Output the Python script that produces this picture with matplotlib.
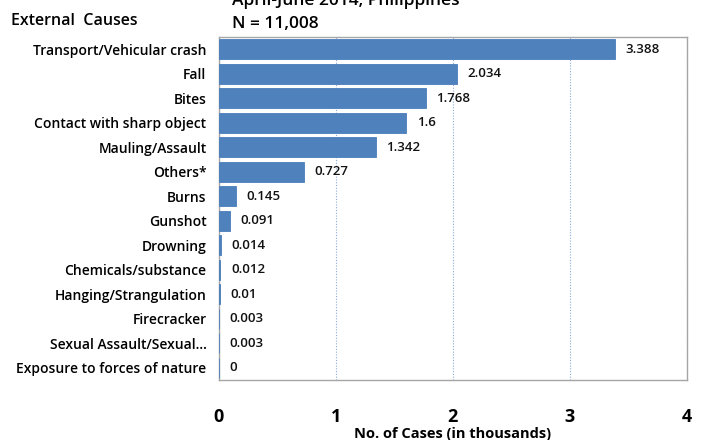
import matplotlib
matplotlib.use('Agg')
import matplotlib.pyplot as plt

# Data (values in thousands of cases)
causes = [
    'Transport/Vehicular crash', 'Fall', 'Bites', 'Contact with sharp object',
    'Mauling/Assault', 'Others*', 'Burns', 'Gunshot', 'Drowning',
    'Chemicals/substance', 'Hanging/Strangulation', 'Firecracker',
    'Sexual Assault/Sexual...', 'Exposure to forces of nature',
]
cases = [3.388, 2.034, 1.768, 1.6, 1.342, 0.727, 0.145, 0.091, 0.014,
         0.012, 0.01, 0.003, 0.003, 0]
value_labels = ['3.388', '2.034', '1.768', '1.6', '1.342', '0.727', '0.145',
                '0.091', '0.014', '0.012', '0.01', '0.003', '0.003', '0']
x_ticks = [0, 1, 2, 3, 4]

plt.rcParams['font.family'] = ['Open Sans', 'DejaVu Sans']

fig = plt.figure(figsize=(7.05, 4.40), dpi=100)
ax = fig.add_axes([0.3106, 0.1364, 0.6638, 0.7795])

pos = list(range(len(causes)))
ax.barh(pos, cases, height=0.8, color='#4F81BD', edgecolor='#4A7EBB', linewidth=0.6, zorder=3)

for p, v, lab in zip(pos, cases, value_labels):
    ax.text(v + 0.09, p, lab, va='center', ha='left', fontsize=9.5,
            fontweight='semibold', color='#111111', zorder=4)

ax.set_ylim(len(causes) - 0.5, -0.5)
ax.set_xlim(0, 4)
ax.set_yticks(pos)
ax.set_yticklabels(causes, fontsize=10, fontweight='semibold')
ax.set_xticks(x_ticks)
ax.set_xticklabels([str(t) for t in x_ticks], fontsize=13, fontweight='bold')
ax.tick_params(axis='y', length=0, pad=9)
ax.tick_params(axis='x', length=0, pad=20)

ax.grid(axis='x', color='#8EAADB', linestyle=(0, (1, 1.5)), linewidth=0.8, zorder=0)
for s in ax.spines.values():
    s.set_color('#A6A6A6')
    s.set_linewidth(1.0)

ax.set_xlabel('No. of Cases (in thousands)', fontsize=10.5, fontweight='bold', labelpad=1)

fig.text(0.015, 0.953, 'External  Causes', fontsize=11.5, fontweight='semibold', va='center')
fig.text(0.329, 0.998, 'April-June 2014, Philippines', fontsize=12.5, fontweight='semibold', va='center')
fig.text(0.329, 0.945, 'N = 11,008', fontsize=12.5, fontweight='semibold', va='center')

fig.savefig('out.png', dpi=100)
